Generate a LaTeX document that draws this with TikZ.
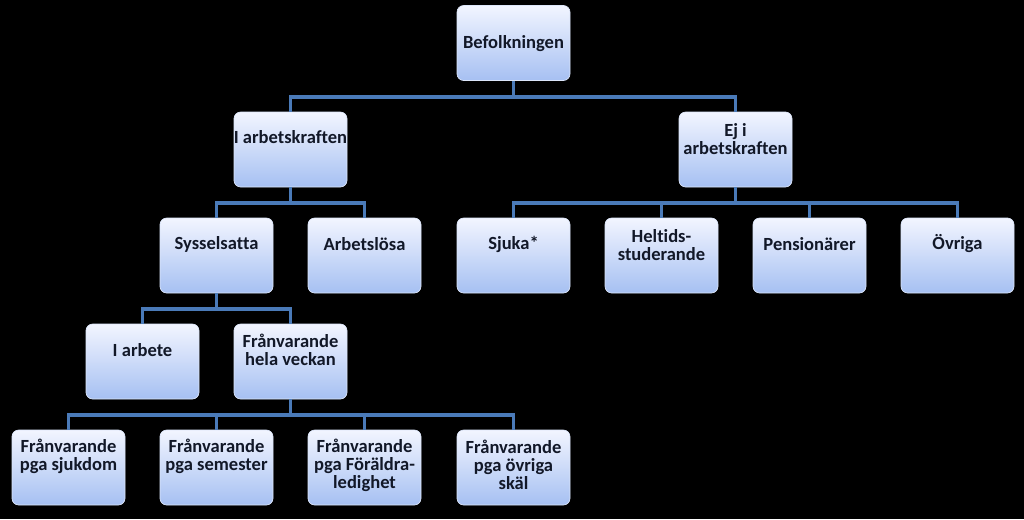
\documentclass[tikz,border=0pt]{standalone}
\usepackage{fontspec}
\setmainfont{Carlito}[Ligatures={NoCommon}]
\definecolor{conn}{HTML}{4A7AB8}
\definecolor{boxtop}{HTML}{F2F5FF}
\definecolor{boxbot}{HTML}{A6C0F2}
\definecolor{boxline}{HTML}{DCE6FA}
\definecolor{txt}{HTML}{121828}
\begin{document}
\begin{tikzpicture}[x=0.75pt,y=-0.75pt,
  box/.style={rectangle, rounded corners=5pt, minimum width=84.75pt, minimum height=56.25pt,
    inner sep=0pt, draw=boxline, line width=0.5pt, top color=boxtop, bottom color=boxbot},
  lbl/.style={align=center, text=txt, font=\fontsize{13.9pt}{13.5pt}\selectfont\bfseries, inner sep=0pt},
  link/.style={draw=conn, line width=2.6pt}]
\fill[black] (0,0) rectangle (1024,519);
\useasboundingbox (0,0) rectangle (1024,519);
% boxes
\node[box] (bef) at (513.5,43) {};
\node[box] (iak) at (290.5,149.5) {};
\node[box] (ejiak) at (735.5,149.5) {};
\node[box] (syss) at (216.5,255.5) {};
\node[box] (arbl) at (364.5,255.5) {};
\node[box] (sjuka) at (513.5,255.5) {};
\node[box] (helt) at (661.5,255.5) {};
\node[box] (pens) at (809.5,255.5) {};
\node[box] (ovr) at (957.5,255.5) {};
\node[box] (iarb) at (142.5,361.5) {};
\node[box] (franv) at (290.5,361.5) {};
\node[box] (fsjuk) at (68.5,467.5) {};
\node[box] (fsem) at (216.5,467.5) {};
\node[box] (fforl) at (364.5,467.5) {};
\node[box] (fovr) at (513.5,467.5) {};
% labels
\node[lbl] (tbef) at (513.5,44) {Befolkningen};
\node[lbl] (tiak) at (290.5,137) {I arbetskraften};
\node[lbl] (tejiak) at (735.5,139) {Ej i\\arbetskraften};
\node[lbl] (tsyss) at (216.5,244) {Sysselsatta};
\node[lbl] (tarbl) at (364.5,244) {Arbetslösa};
\node[lbl] (tsjuka) at (513.5,244) {Sjuka*};
\node[lbl] (thelt) at (661.5,245) {Heltids-\\studerande};
\node[lbl] (tpens) at (809.5,244) {Pensionärer};
\node[lbl] (tovr) at (957.5,244) {Övriga};
\node[lbl] (tiarb) at (142.5,350) {I arbete};
\node[lbl] (tfranv) at (290.5,350) {Frånvarande\\hela veckan};
\node[lbl] (tfsjuk) at (68.5,456) {Frånvarande\\pga sjukdom};
\node[lbl] (tfsem) at (216.5,456) {Frånvarande\\pga semester};
\node[lbl] (tfforl) at (364.5,465) {Frånvarande\\pga Föräldra-\\ledighet};
\node[lbl] (tfovr) at (513.5,465) {Frånvarande\\pga övriga\\skäl};
% connectors
\draw[link] (bef.south) -- ++(0,16) -| (iak.north);
\draw[link] (bef.south) -- ++(0,16) -| (ejiak.north);
\draw[link] (iak.south) -- ++(0,15.5) -| (syss.north);
\draw[link] (iak.south) -- ++(0,15.5) -| (arbl.north);
\foreach \c in {sjuka,helt,pens,ovr}
  \draw[link] (ejiak.south) -- ++(0,15.5) -| (\c.north);
\draw[link] (syss.south) -- ++(0,15.5) -| (iarb.north);
\draw[link] (syss.south) -- ++(0,15.5) -| (franv.north);
\foreach \c in {fsjuk,fsem,fforl,fovr}
  \draw[link] (franv.south) -- ++(0,15.5) -| (\c.north);
\end{tikzpicture}
\end{document}
